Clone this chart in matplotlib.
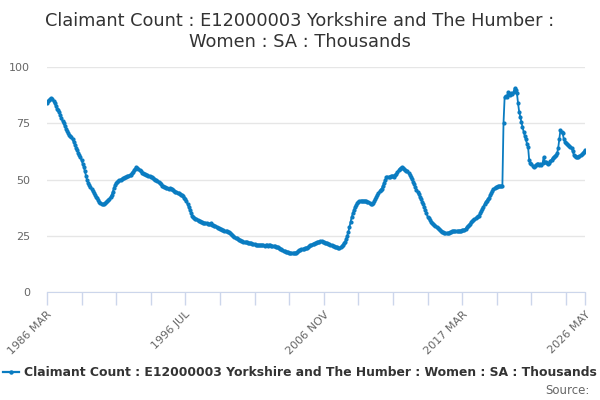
import numpy as np
import matplotlib
matplotlib.use("Agg")
import matplotlib.pyplot as plt

# monthly values, 1986 MAR .. 2026 MAY (thousands)
v1986 = [84.2, 84.8, 85.3, 85.8, 86.2, 85.6, 84.9, 83.8, 82.6, 81.5]
v1987 = [81.0, 79.8, 78.5, 77.2, 76.0, 74.9, 73.7, 72.6, 71.6, 70.5, 69.9, 69.3]
v1988 = [68.8, 67.8, 66.7, 65.5, 64.2, 63.0, 62.0, 61.0, 60.0, 58.6, 57.1, 55.7]
v1989 = [53.7, 51.7, 49.7, 48.6, 47.6, 46.7, 45.8, 44.8, 43.9, 43.0, 42.3, 41.6]
v1990 = [40.8, 40.2, 39.7, 39.3, 39.0, 39.1, 39.4, 39.8, 40.3, 40.8, 41.5, 42.3]
v1991 = [43.0, 44.6, 46.1, 47.5, 48.3, 48.9, 49.3, 49.7, 50.0, 50.3, 50.5, 50.8]
v1992 = [51.0, 51.2, 51.5, 51.6, 52.0, 52.2, 52.7, 53.4, 54.1, 54.8, 55.4, 55.0]
v1993 = [54.6, 54.1, 53.6, 53.1, 52.7, 52.5, 52.3, 52.1, 51.9, 51.7, 51.5, 51.2]
v1994 = [50.9, 50.6, 50.3, 50.0, 49.7, 49.2, 48.8, 48.3, 47.8, 47.3, 47.0, 46.8]
v1995 = [46.5, 46.3, 46.1, 46.0, 46.2, 45.8, 46.0, 45.4, 45.0, 44.5, 44.3, 44.0]
v1996 = [43.8, 43.5, 43.3, 43.0, 42.6, 42.0, 41.5, 40.3, 39.0, 37.8, 36.5, 35.2]
v1997 = [34.0, 33.4, 33.0, 32.6, 32.3, 32.1, 31.7, 31.4, 31.2, 31.0, 30.8, 30.7]
v1998 = [30.6, 30.5, 30.4, 30.3, 30.2, 30.6, 30.0, 29.8, 29.5, 29.2, 28.9, 28.6]
v1999 = [28.4, 28.2, 27.9, 27.7, 27.4, 27.2, 27.0, 26.9, 26.8, 26.6, 26.2, 25.7]
v2000 = [25.2, 24.8, 24.4, 24.1, 23.8, 23.5, 23.3, 23.0, 22.8, 22.6, 22.4, 22.3]
v2001 = [22.2, 22.1, 22.0, 21.9, 21.7, 21.6, 21.5, 21.3, 21.2, 21.1, 21.0, 20.9]
v2002 = [20.8, 20.7, 20.7, 20.8, 20.7, 20.6, 20.7, 20.8, 20.6, 20.7, 20.7, 20.6]
v2003 = [20.6, 20.5, 20.4, 20.2, 20.0, 19.8, 19.5, 19.2, 19.0, 18.7, 18.4, 18.2]
v2004 = [18.0, 17.8, 17.6, 17.5, 17.4, 17.4, 17.4, 17.3, 17.4, 17.5, 17.7, 18.1]
v2005 = [18.5, 18.8, 18.9, 19.1, 19.3, 19.5, 19.6, 19.7, 19.9, 20.3, 20.7, 21.0]
v2006 = [21.3, 21.5, 21.7, 21.9, 22.1, 22.3, 22.4, 22.5, 22.6, 22.4, 22.2, 22.0]
v2007 = [21.8, 21.6, 21.4, 21.2, 21.0, 20.8, 20.6, 20.4, 20.2, 20.0, 19.8, 19.7]
v2008 = [19.6, 19.8, 20.3, 21.0, 21.6, 22.2, 23.5, 25.0, 26.6, 28.8, 31.0, 33.3]
v2009 = [34.9, 36.3, 37.8, 38.6, 39.4, 40.0, 40.5, 40.6, 40.6, 40.5, 40.5, 40.5]
v2010 = [40.3, 40.0, 39.8, 39.5, 39.2, 39.0, 39.5, 40.3, 41.2, 42.3, 43.2, 44.0]
v2011 = [44.8, 45.5, 46.0, 47.3, 48.6, 49.8, 50.9, 51.1, 51.2, 51.3, 51.4, 51.5]
v2012 = [51.5, 51.3, 51.9, 52.6, 53.4, 54.1, 54.8, 55.2, 55.4, 55.0, 54.7, 54.3]
v2013 = [54.0, 53.6, 53.0, 52.2, 51.2, 50.1, 49.0, 47.8, 46.5, 45.3, 44.4, 43.5]
v2014 = [42.4, 41.3, 40.2, 39.3, 37.9, 36.4, 35.0, 33.5, 32.8, 32.0, 31.3, 30.7]
v2015 = [30.4, 29.8, 29.3, 28.8, 28.3, 27.9, 27.4, 27.1, 26.8, 26.6, 26.4, 26.3]
v2016 = [26.2, 26.2, 26.3, 26.5, 26.7, 26.9, 27.0, 27.1, 27.1, 27.0, 27.1, 27.2]
v2017 = [27.3, 27.3, 27.4, 27.5, 27.7, 28.2, 28.7, 29.3, 29.8, 30.4, 30.9, 31.4]
v2018 = [31.9, 32.3, 32.7, 33.2, 33.6, 34.0, 35.0, 36.0, 37.0, 38.0, 39.0, 40.0]
v2019 = [40.6, 41.3, 42.0, 43.0, 44.0, 45.0, 45.7, 46.2, 46.5, 46.8, 47.0, 47.0]
v2020 = [47.1, 47.2, 47.3, 75.0, 86.5, 87.2, 86.8, 88.7, 88.0, 87.6, 88.3, 88.0]
v2021 = [89.0, 90.6, 90.0, 88.5, 84.0, 80.2, 78.0, 75.5, 73.4, 71.3, 69.5, 67.8]
v2022 = [66.0, 64.5, 58.6, 57.5, 56.8, 56.2, 55.7, 56.0, 56.5, 56.9, 57.1, 56.5]
v2023 = [57.0, 56.4, 57.2, 60.0, 57.9, 57.6, 57.2, 56.8, 57.5, 58.2, 58.8, 59.5]
v2024 = [60.1, 60.5, 61.0, 61.6, 64.0, 68.0, 72.0, 71.3, 70.5, 68.0, 66.8, 66.2]
v2025 = [65.8, 65.4, 65.0, 64.6, 64.0, 62.5, 61.0, 60.4, 60.1, 60.0, 60.1, 60.5]
v2026 = [60.8, 61.2, 61.8, 62.4, 63.1]

values = (v1986 + v1987 + v1988 + v1989 + v1990 + v1991 + v1992 + v1993 + v1994
          + v1995 + v1996 + v1997 + v1998 + v1999 + v2000 + v2001 + v2002 + v2003
          + v2004 + v2005 + v2006 + v2007 + v2008 + v2009 + v2010 + v2011 + v2012
          + v2013 + v2014 + v2015 + v2016 + v2017 + v2018 + v2019 + v2020 + v2021
          + v2022 + v2023 + v2024 + v2025 + v2026)

tick_labels = ["1986 MAR", "1996 JUL", "2006 NOV", "2017 MAR", "2026 MAY"]
y_ticks = [0, 25, 50, 75, 100]

series_name = "Claimant Count : E12000003 Yorkshire and The Humber : Women : SA : Thousands"
title = "Claimant Count : E12000003 Yorkshire and The Humber :\nWomen : SA : Thousands"

blue = "#0a7cc1"
grey = "#666666"
n = len(values)
x = np.arange(n)

fig = plt.figure(figsize=(6, 4), dpi=100)
ax = fig.add_axes([46.9 / 600, 108 / 400, (585 - 46.9) / 600, 225 / 400])

ax.plot(x, values, color=blue, lw=1.3, marker="o", ms=2.0, mec=blue, mfc=blue, zorder=3)

ax.set_xlim(0, n - 1)
ax.set_ylim(0, 100)
ax.set_yticks(y_ticks)
ax.yaxis.grid(True, color="#e6e6e6", lw=1)
ax.set_axisbelow(True)

# ticks every 31 months plus the last month, labels every 4th tick
ticks = list(range(0, n, 31)) + [n - 1]
ax.set_xticks(ticks)
labels = []
for i in ticks:
    if i % 124 == 0:
        labels.append(tick_labels[i // 124])
    elif i == n - 1:
        labels.append(tick_labels[-1])
    else:
        labels.append("")
ax.set_xticklabels(labels, rotation=45, ha="right", rotation_mode="anchor")

for s in ["top", "right", "left"]:
    ax.spines[s].set_visible(False)
ax.spines["bottom"].set_color("#ccd6eb")
ax.tick_params(axis="x", colors="#ccd6eb", length=9, width=1, labelcolor=grey, labelsize=8)
ax.tick_params(axis="y", length=0, labelcolor=grey, labelsize=8, pad=12)

fig.text(0.5, 0.97, title, ha="center", va="top", fontsize=12.8, color="#333333",
         linespacing=1.2)

handle, = ax.plot([], [], color=blue, lw=1.6, marker="o", ms=2.2)
fig.legend([handle], [series_name], loc="center", bbox_to_anchor=(0.5, 1 - 373 / 400),
           frameon=False, handlelength=1.3, handletextpad=0.4,
           prop={"weight": "bold", "size": 8.9}, labelcolor="#333333")
fig.text(0.982, 1 - 390 / 400, "Source:", ha="right", va="center", fontsize=8.5, color=grey)

fig.savefig("out.png", dpi=100)
